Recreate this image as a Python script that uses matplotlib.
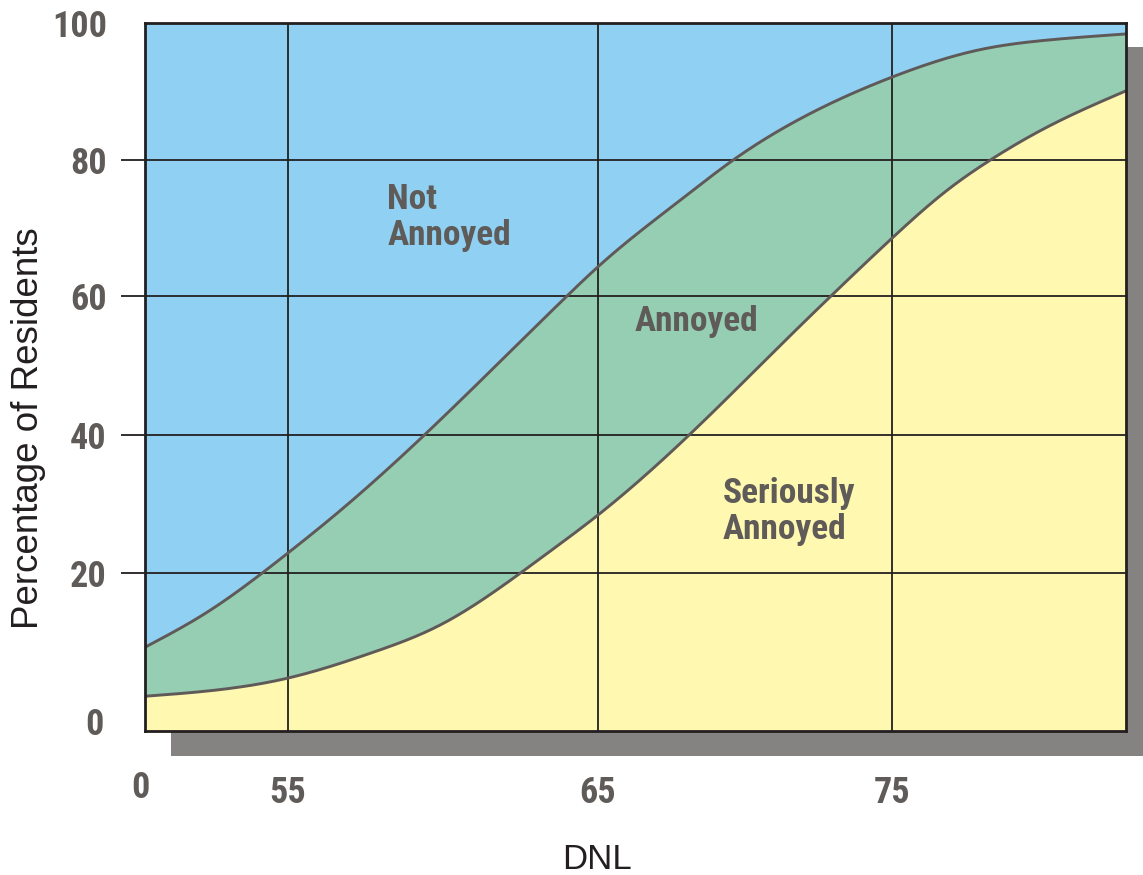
import numpy as np
import matplotlib
matplotlib.use("Agg")
import matplotlib.pyplot as plt
from matplotlib import font_manager
from matplotlib.patches import Rectangle
from matplotlib.transforms import ScaledTranslation

# ---- data -------------------------------------------------------------
# Day-night average sound level (dB)
dnl = [50.0, 52.2, 54.1, 55.0, 56.7, 59.4, 64.0, 65.0, 67.8, 69.6, 71.2,
       75.0, 78.0, 80.3, 83.0]
# Percentage of residents who are at least annoyed (upper boundary)
pct_annoyed = [10.6, 15.1, 20.0, 22.9, 29.1, 40.0, 60.0, 64.3, 74.1, 80.0,
               84.4, 92.1, 96.1, 97.5, 98.4]

dnl_serious = [50.0, 55.0, 57.7, 59.9, 62.5, 63.5, 65.0, 68.1, 71.9, 72.9,
               75.0, 76.9, 78.4, 80.3, 83.0]
# Percentage of residents who are seriously annoyed (lower boundary)
pct_serious = [4.4, 6.7, 9.9, 13.4, 20.0, 23.3, 28.4, 40.0, 55.8, 59.9,
               68.5, 75.6, 80.1, 84.8, 90.1]

x_ticks = [50, 55, 65, 75]
x_tick_labels = ["0", "55", "65", "75"]
y_ticks = [0, 20, 40, 60, 80, 100]
y_tick_labels = ["0", "20", "40", "60", "80", "100"]
x_grid = [55, 65, 75]
y_grid = [20, 40, 60, 80]

# ---- piecewise axis scales (the printed axes are not evenly spaced) ----
X_KNOTS = np.array([50.0, 55.0, 65.0, 75.0, 83.0])
X_POS = np.array([0.0, 143.0, 453.0, 747.0, 981.0])
Y_KNOTS = np.array([0.0, 20.0, 40.0, 60.0, 80.0, 100.0])
Y_POS = np.array([0.0, 158.0, 296.0, 435.0, 571.0, 708.0])


def piecewise(src, dst):
    def f(v):
        v = np.asarray(v, dtype=float)
        out = np.interp(v, src, dst)
        lo_slope = (dst[1] - dst[0]) / (src[1] - src[0])
        hi_slope = (dst[-1] - dst[-2]) / (src[-1] - src[-2])
        out = np.where(v < src[0], dst[0] + (v - src[0]) * lo_slope, out)
        out = np.where(v > src[-1], dst[-1] + (v - src[-1]) * hi_slope, out)
        return out
    return f


fx, fx_inv = piecewise(X_KNOTS, X_POS), piecewise(X_POS, X_KNOTS)
fy, fy_inv = piecewise(Y_KNOTS, Y_POS), piecewise(Y_POS, Y_KNOTS)


def natural_spline(xs, ys, n=600):
    """Natural cubic spline through the points, sampled for drawing."""
    xs = np.asarray(xs, float)
    ys = np.asarray(ys, float)
    npts = len(xs)
    h = np.diff(xs)
    A = np.zeros((npts, npts))
    r = np.zeros(npts)
    A[0, 0] = A[-1, -1] = 1.0
    for i in range(1, npts - 1):
        A[i, i - 1] = h[i - 1]
        A[i, i] = 2 * (h[i - 1] + h[i])
        A[i, i + 1] = h[i]
        r[i] = 3 * ((ys[i + 1] - ys[i]) / h[i] - (ys[i] - ys[i - 1]) / h[i - 1])
    c = np.linalg.solve(A, r)
    b = (ys[1:] - ys[:-1]) / h - h * (2 * c[:-1] + c[1:]) / 3
    d = (c[1:] - c[:-1]) / (3 * h)
    xf = np.linspace(xs[0], xs[-1], n)
    k = np.clip(np.searchsorted(xs, xf) - 1, 0, npts - 2)
    t = xf - xs[k]
    yf = ys[k] + b[k] * t + c[k] * t**2 + d[k] * t**3
    return xf, yf


def smooth_in_axis_space(xs, ys):
    # build the smooth curve in the scaled (drawn) space, then map back
    px, py = natural_spline(fx(xs), fy(ys))
    return fx_inv(px), fy_inv(py)


xa, ya = smooth_in_axis_space(dnl, pct_annoyed)
xs_, ys_ = smooth_in_axis_space(dnl_serious, pct_serious)
# common x grid for the filled bands
xc = np.linspace(50.0, 83.0, 800)
upper = np.interp(xc, xa, ya)
lower = np.interp(xc, xs_, ys_)


# ---- fonts: a narrow bold sans for the numbers and region names --------
def narrow_bold_font():
    fonts = font_manager.fontManager.ttflist
    names = {f.name for f in fonts}
    for fam in ["Liberation Sans Narrow", "Arial Narrow", "Roboto Condensed",
                "Open Sans Condensed", "Noto Sans Condensed",
                "DejaVu Sans Condensed", "Nimbus Sans Narrow"]:
        if fam in names:
            return dict(family=fam, stretch="normal"), 1.0
    for fam in ["Noto Sans", "Open Sans", "Roboto", "Liberation Sans", "DejaVu Sans"]:
        for f in fonts:
            if (f.name == fam and "condensed" in str(f.stretch)
                    and f.weight in (600, 700, "bold", "semibold", "demibold")):
                return dict(family=fam, stretch=f.stretch), 0.95
    return dict(family="Liberation Sans", stretch="normal"), 0.84


NARROW, NARROW_SCALE = narrow_bold_font()

# ---- styling ------------------------------------------------------------
BLUE = "#8fd0f3"
GREEN = "#96ceb4"
YELLOW = "#fff8b0"
INK = "#231f20"
CURVE = "#5f5a58"
LABEL = "#5f5b59"
SHADOW = "#858382"

fig = plt.figure(figsize=(11.43, 8.75), dpi=100)
fig.patch.set_facecolor("white")

# drop shadow behind the plot frame
fig.add_artist(Rectangle((171 / 1143, 1 - 756 / 875), 1.0, (756 - 47) / 875,
                         transform=fig.transFigure, facecolor=SHADOW,
                         edgecolor="none", zorder=0))

ax = fig.add_axes([145 / 1143, 1 - 731 / 875, (1126 - 145) / 1143, (731 - 23) / 875])
ax.set_zorder(1)
ax.set_xscale("function", functions=(fx, fx_inv))
ax.set_yscale("function", functions=(fy, fy_inv))
ax.set_xlim(50, 83)
ax.set_ylim(0, 100)

ax.fill_between(xc, lower, upper, color=GREEN, lw=0, zorder=1)
ax.fill_between(xc, upper, 100, color=BLUE, lw=0, zorder=1)
ax.fill_between(xc, 0, lower, color=YELLOW, lw=0, zorder=1)

for gx in x_grid:
    ax.axvline(gx, color=INK, lw=1.3, zorder=2)
for gy in y_grid:
    ax.axhline(gy, color=INK, lw=1.3, zorder=2)

ax.plot(xa, ya, color=CURVE, lw=2.1, zorder=3, solid_capstyle="butt")
ax.plot(xs_, ys_, color=CURVE, lw=2.1, zorder=3, solid_capstyle="butt")

for sp in ax.spines.values():
    sp.set_linewidth(2.0)
    sp.set_color(INK)
    sp.set_zorder(4)

ax.set_xticks(x_ticks)
ax.set_xticklabels(x_tick_labels)
ax.tick_params(axis="x", length=0, pad=32)
ax.set_yticks(y_ticks)
ax.set_yticklabels(y_tick_labels)
ax.tick_params(axis="y", length=17.5, width=1.3, color=INK, pad=10)
ax.xaxis.set_minor_locator(matplotlib.ticker.NullLocator())
ax.yaxis.set_minor_locator(matplotlib.ticker.NullLocator())
yt = ax.yaxis.get_major_ticks()
yt[0].tick1line.set_visible(False)
yt[-1].tick1line.set_visible(False)

for lab in ax.get_xticklabels() + ax.get_yticklabels():
    lab.set_fontfamily(NARROW["family"])
    lab.set_fontstretch(NARROW["stretch"])
    lab.set_fontweight("bold")
    lab.set_fontsize(26 * NARROW_SCALE)
    lab.set_color(LABEL)

# the origin labels sit slightly inside the corner
lab0_y = yt[0].label1
lab0_y.set_transform(lab0_y.get_transform()
                     + ScaledTranslation(-2 / 72, 7 / 72, fig.dpi_scale_trans))
lab0_x = ax.xaxis.get_major_ticks()[0].label1
lab0_x.set_transform(lab0_x.get_transform()
                     + ScaledTranslation(-3 / 72, 4 / 72, fig.dpi_scale_trans))

ax.set_xlabel("DNL", fontsize=25, color=INK, family="Liberation Sans")
ax.xaxis.set_label_coords(0.461, -0.158)
ax.set_ylabel("Percentage of Residents", fontsize=26.5, color=INK,
              family="Liberation Sans")
ax.yaxis.set_label_coords(-0.101, 0.428)

region_kw = dict(family=NARROW["family"], fontstretch=NARROW["stretch"],
                 fontweight="bold", fontsize=25.5 * NARROW_SCALE, color=LABEL,
                 ha="left", va="center", linespacing=1.12, zorder=5)
ax.text(58.2, 71.6, "Not\nAnnoyed", **region_kw)
ax.text(66.26, 56.3, "Annoyed", **region_kw)
ax.text(69.25, 28.9, "Seriously\nAnnoyed", **region_kw)

fig.savefig("out.png", dpi=100, facecolor="white")
